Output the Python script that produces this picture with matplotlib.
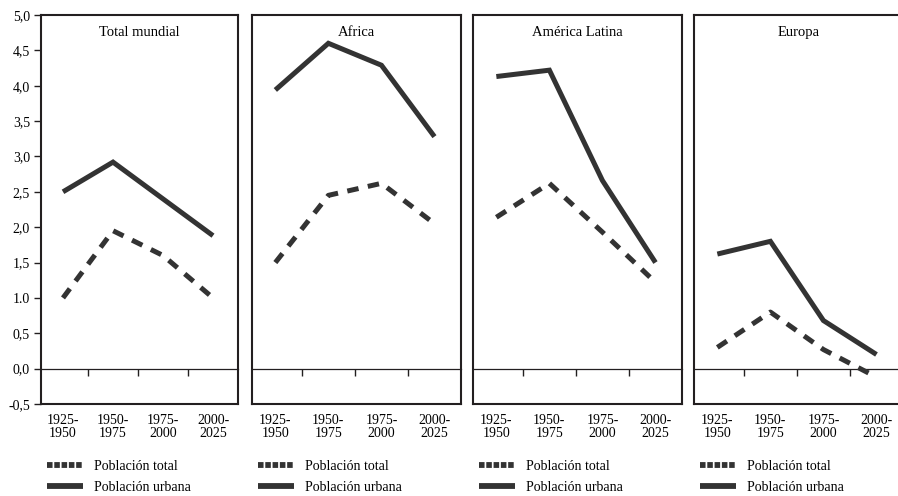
import numpy as np
import matplotlib
matplotlib.use("Agg")
import matplotlib.pyplot as plt
from matplotlib.lines import Line2D

plt.rcParams['font.family'] = ['Liberation Serif', 'DejaVu Serif']
plt.rcParams['font.size'] = 10

# Datos
periodos = ["1925-\n1950", "1950-\n1975", "1975-\n2000", "2000-\n2025"]
regiones = ["Total mundial", "Africa", "América Latina", "Europa"]

urbana_mundial = [2.5, 2.92, 2.4, 1.88]
total_mundial = [1.0, 1.95, 1.6, 1.0]
urbana_africa = [3.94, 4.6, 4.29, 3.28]
total_africa = [1.5, 2.45, 2.62, 2.05]
urbana_latina = [4.13, 4.22, 2.66, 1.5]
total_latina = [2.14, 2.62, 1.93, 1.22]
urbana_europa = [1.62, 1.8, 0.68, 0.2]
total_europa = [0.3, 0.8, 0.27, -0.12]

urbana = [urbana_mundial, urbana_africa, urbana_latina, urbana_europa]
total = [total_mundial, total_africa, total_latina, total_europa]

yticks = [-0.5, 0.0, 0.5, 1.0, 1.5, 2.0, 2.5, 3.0, 3.5, 4.0, 4.5, 5.0]
ytick_labels = ["-0,5", "0,0", "0,5", "1.0", "1,5", "2,0", "2,5", "3,0",
                "3,5", "4,0", "4,5", "5,0"]

color_linea = "#333333"
color_marco = "#231f20"

W, H = 898, 496
fig = plt.figure(figsize=(W / 100, H / 100), dpi=100)

# posiciones de los paneles en pixeles (izq, ancho)
paneles = [(41, 197), (252, 209), (473, 209), (694, 209)]
abajo, arriba = 404, 15

x = np.arange(len(periodos))

for i, (izq, ancho) in enumerate(paneles):
    ax = fig.add_axes([izq / W, (H - abajo) / H, ancho / W, (abajo - arriba) / H])
    ax.plot(x, urbana[i], color=color_linea, lw=3.6, solid_capstyle='butt',
            solid_joinstyle='miter')
    ax.plot(x, total[i], color=color_linea, lw=3.6, linestyle=(0, (2.3, 1.9)),
            dash_capstyle='butt')
    ax.set_xlim(-0.44, 3.5)
    ax.set_ylim(-0.5, 5.0)

    for s in ax.spines.values():
        s.set_linewidth(1.5)
        s.set_color(color_marco)

    ax.set_xticks(x)
    ax.set_xticklabels(periodos)
    ax.tick_params(axis='x', length=0, pad=7, labelsize=10)
    for t in ax.get_xticklabels():
        t.set_linespacing(1.0)

    if i == 0:
        ax.set_yticks(yticks)
        ax.set_yticklabels(ytick_labels)
        ax.tick_params(axis='y', direction='out', length=5, width=1,
                       color=color_marco, labelsize=10, pad=3)
    else:
        ax.set_yticks([])

    # linea del cero con marcas entre periodos
    sec = ax.secondary_xaxis(0.5 / 5.5)
    sec.set_xticks([0.5, 1.5, 2.5])
    sec.set_xticklabels([])
    sec.tick_params(axis='x', direction='out', length=5, width=1, color=color_marco)
    sec.spines['bottom'].set_linewidth(0.9)
    sec.spines['bottom'].set_color(color_marco)

    ax.text(0.5, 0.972, regiones[i], transform=ax.transAxes, ha='center',
            va='top', fontsize=10.5)

    handles = [
        Line2D([], [], color=color_linea, lw=4.2, linestyle=(0, (0.95, 0.3)),
               dash_capstyle='butt'),
        Line2D([], [], color=color_linea, lw=4.2, solid_capstyle='butt'),
    ]
    ax.legend(handles, ["Población total", "Población urbana"],
              loc='upper left', bbox_to_anchor=(6 / ancho, -0.143),
              frameon=False, borderaxespad=0, borderpad=0,
              handlelength=2.6, handletextpad=0.75, labelspacing=0.6,
              fontsize=10)

fig.savefig("out.png", dpi=100)
